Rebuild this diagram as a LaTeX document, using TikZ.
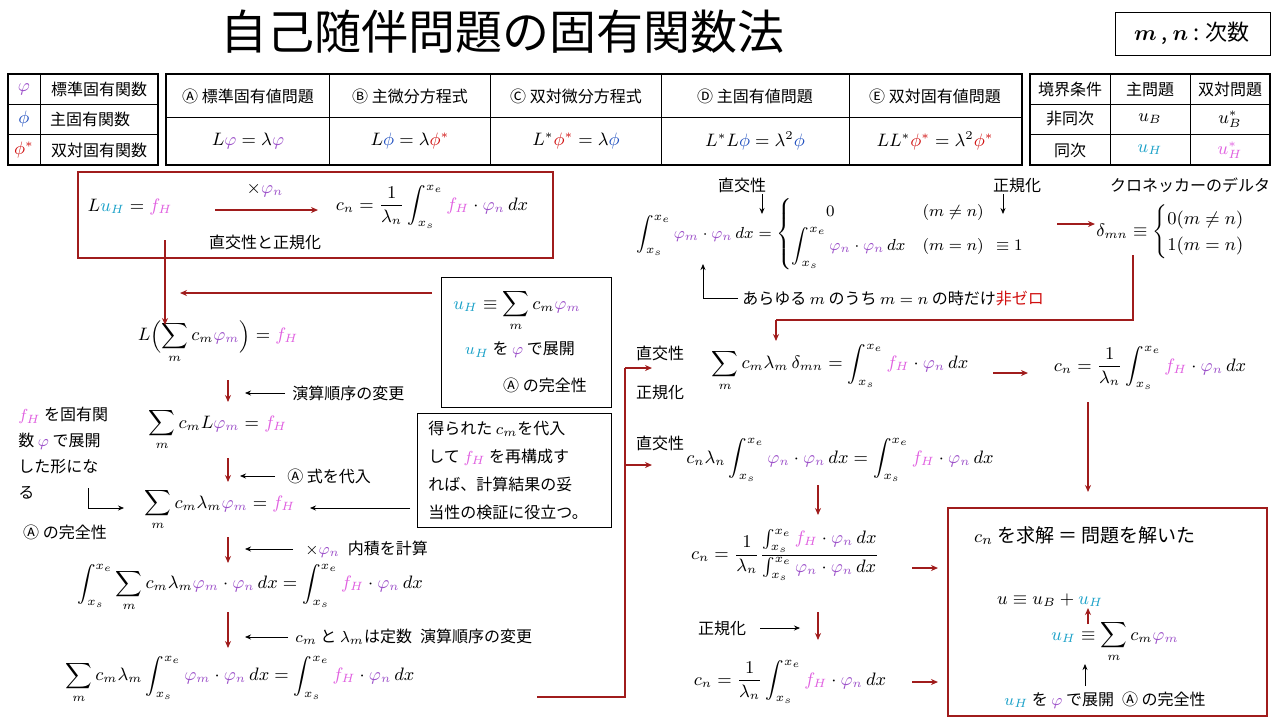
\documentclass[tikz,border=0pt]{standalone}
\usepackage{amsmath}
\usepackage{amssymb}
\usepackage{fontspec}
\setmainfont{Noto Sans CJK JP}
\usetikzlibrary{arrows.meta}
\definecolor{cpu}{HTML}{9B4FC8}
\definecolor{cbl}{HTML}{1F4FBF}
\definecolor{crd}{HTML}{D01010}
\definecolor{ccy}{HTML}{1BA1C8}
\definecolor{cpk}{HTML}{E060E0}
\definecolor{dred}{HTML}{A01C1C}
\newcommand\vp{\textcolor{cpu}{\varphi}}
\newcommand\vpm{\textcolor{cpu}{\varphi_m}}
\newcommand\vpn{\textcolor{cpu}{\varphi_n}}
\newcommand\ph{\textcolor{cbl}{\phi}}
\newcommand\phs{\textcolor{crd}{\phi^*}}
\newcommand\uH{\textcolor{ccy}{u_H}}
\newcommand\fH{\textcolor{cpk}{f_H}}
\newcommand\intse{\int_{x_s}^{x_e}}
\tikzset{
  txt/.style={inner sep=1pt, font=\fontsize{8}{10}\selectfont},
  eq/.style={inner sep=1pt, font=\fontsize{9}{11}\selectfont},
  rarr/.style={draw=dred, line width=0.7pt, -{Stealth[length=3.5pt,width=3pt]}},
  rline/.style={draw=dred, line width=0.7pt},
  barr/.style={draw=black, line width=0.4pt, -{Stealth[length=3pt,width=2.5pt]}},
  tbl/.style={draw=black, line width=0.4pt}
}
\begin{document}
\begin{tikzpicture}[x=0.5pt,y=-0.5pt]
    \useasboundingbox (0,0) rectangle (1280,720);
    % title
    \node (title) at (502,32) {\fontsize{23.5}{27}\selectfont 自己随伴問題の固有関数法};
    \draw [tbl] (1115,12) rectangle (1270,55);
    \node [txt] (deg) at (1192,33) {\fontsize{11}{13}\selectfont $\boldsymbol{m}$ , $\boldsymbol{n}$ : 次数};
    % legend table
    \draw [tbl, line width=0.8pt] (8,74) rectangle (158,165);
    \draw [tbl] (40,74) -- (40,165) (8,104) -- (158,104) (8,134) -- (158,134);
    \node [eq] (l1) at (24,89) {$\vp$};
    \node [eq] (l2) at (24,119) {$\ph$};
    \node [eq] (l3) at (24,150) {$\phs$};
    \node [txt] (t1) at (99,89) {標準固有関数};
    \node [txt] (t2) at (90,119) {主固有関数};
    \node [txt] (t3) at (99,150) {双対固有関数};
    % main table
    \draw [tbl, line width=0.8pt] (166,74) rectangle (1022,165);
    \draw [tbl] (166,117) -- (1022,117);
    \foreach \xs in {329,490,661,849} \draw [tbl] (\xs,74) -- (\xs,165);
    \node [txt] (hA) at (248,96) {Ⓐ 標準固有値問題};
    \node [txt] (hB) at (410,96) {Ⓑ 主微分方程式};
    \node [txt] (hC) at (576,96) {Ⓒ 双対微分方程式};
    \node [txt] (hD) at (755,96) {Ⓓ 主固有値問題};
    \node [txt] (hE) at (935,96) {Ⓔ 双対固有値問題};
    \node [eq] (qA) at (248,141) {$L\vp=\lambda\vp$};
    \node [eq] (qB) at (410,141) {$L\ph=\lambda\phs$};
    \node [eq] (qC) at (576,141) {$L^*\phs=\lambda\ph$};
    \node [eq] (qD) at (755,141) {$L^*L\ph=\lambda^2\ph$};
    \node [eq] (qE) at (935,141) {$LL^*\phs=\lambda^2\phs$};
    % boundary table
    \draw [tbl, line width=0.8pt] (1030,74) rectangle (1270,165);
    \draw [tbl] (1110,74) -- (1110,165) (1190,74) -- (1190,165) (1030,104) -- (1270,104) (1030,134) -- (1270,134);
    \node [txt] (b1) at (1070,89) {境界条件};
    \node [txt] (b2) at (1150,89) {主問題};
    \node [txt] (b3) at (1230,89) {双対問題};
    \node [txt] (b4) at (1070,119) {非同次};
    \node [txt] (b5) at (1070,150) {同次};
    \node [eq] (b6) at (1150,119) {$u_B$};
    \node [eq] (b7) at (1230,119) {$u_B^*$};
    \node [eq] (b8) at (1150,150) {$\uH$};
    \node [eq] (b9) at (1230,150) {$\textcolor{cpk}{u_H^*}$};
    % top left box
    \draw [draw=dred, line width=0.6pt] (78,172) rectangle (553,258);
    \node [eq] (s0) at (130,207) {$L\uH=\fH$};
    \node [eq] (mul) at (265,190) {$\times\vpn$};
    \node [eq] (c0) at (432,207) {$\displaystyle c_n=\frac{1}{\lambda_n}\intse\fH\cdot\vpn\,dx$};
    \node [txt] (oc) at (265,242) {直交性と正規化};
    \draw [rarr] (215,210) -- (318,210);
    % left chain
    \node [eq] (e1) at (218,342) {$\displaystyle L\Bigl(\sum_m c_m\vpm\Bigr)=\fH$};
    \node [eq] (e2) at (218,430) {$\displaystyle \sum_m c_mL\vpm=\fH$};
    \node [eq] (e3) at (220,510) {$\displaystyle \sum_m c_m\lambda_m\vpm=\fH$};
    \node [eq] (e4) at (250,588) {$\displaystyle \intse\sum_m c_m\lambda_m\vpm\cdot\vpn\,dx=\intse\fH\cdot\vpn\,dx$};
    \node [eq] (e5) at (240,680) {$\displaystyle \sum_m c_m\lambda_m\intse\vpm\cdot\vpn\,dx=\intse\fH\cdot\vpn\,dx$};
    \draw [rarr] (165,240) -- (165,325);
    \draw [rarr] (432,293) -- (180,293);
    \foreach \ya/\yb in {380/402,458/482,537/563,612/648} \draw [rarr] (228,\ya) -- (228,\yb);
    \draw [barr] (285,393) -- (245,393);
    \node [txt, anchor=west] (n1) at (290,393) {演算順序の変更};
    \draw [barr] (275,476) -- (240,476);
    \node [txt, anchor=west] (n2) at (285,476) {Ⓐ 式を代入};
    \draw [barr] (293,549) -- (245,549);
    \node [txt, anchor=west] (n3) at (303,549) {$\times\vpn$\enspace 内積を計算};
    \draw [barr] (288,637) -- (245,637);
    \node [txt, anchor=west] (n4) at (293,637) {$c_m$ と $\lambda_m$は定数\enspace 演算順序の変更};
    % expansion box
    \draw [tbl] (441,277) rectangle (611,407);
    \node [eq] (ex1) at (517,311) {$\displaystyle \uH\equiv\sum_m c_m\vpm$};
    \node [txt] (ex2) at (520,350) {$\uH$ を $\vp$ で展開};
    \node [txt] (ex3) at (545,385) {Ⓐ の完全性};
    % left notes
    \node [txt, anchor=west, align=left] (lf) at (16,453) {$\fH$ を固有関\\[3pt]数 $\vp$ で展開\\[3pt]した形にな\\[3pt]る};
    \node [txt] (lc) at (65,532) {Ⓐ の完全性};
    \coordinate (lk) at (88,488);
    \draw [barr] (lk) -- (88,508) -- (124,508);
    % verification box
    \draw [tbl] (417,413) rectangle (611,527);
    \node [txt, anchor=west, align=left] (vb) at (426,470) {得られた $c_m$を代入\\[4pt]して $\fH$ を再構成す\\[4pt]れば、計算結果の妥\\[4pt]当性の検証に役立つ。};
    \draw [barr] (410,508) -- (310,508);
    % connector to right side
    \coordinate (k1) at (625,697);
    \coordinate (k2) at (625,368);
    \draw [rline] (537,697) -- (k1) -- (k2);
    \draw [rarr] (k2) -- (652,368);
    \draw [rarr] (625,465) -- (652,465);
    % right top orthogonality
    \node [txt] (or) at (742,185) {直交性};
    \node [txt] (nr) at (1017,185) {正規化};
    \node [txt] (kd) at (1190,185) {クロネッカーのデルタ};
    \node [eq, anchor=west, font=\fontsize{8.5}{10}\selectfont] (orth) at (634,234) {$\displaystyle \intse\vpm\cdot\vpn\,dx=\begin{cases}\qquad 0 & (m\ne n)\\[2pt] \displaystyle\intse\vpn\cdot\vpn\,dx & (m=n)\ \ \equiv1\end{cases}$};
    \node [eq] (dl) at (1180,232) {$\delta_{mn}\equiv\begin{cases}0(m\ne n)\\1(m=n)\end{cases}$};
    \draw [barr] (762,194) -- (762,214);
    \draw [barr] (1003,194) -- (1003,214);
    \draw [rarr] (1057,224) -- (1095,224);
    \node [txt, anchor=west] (nz) at (740,298) {あらゆる $m$ のうち $m=n$ の時だけ\textcolor{crd}{非ゼロ}};
    \draw [barr] (738,298) -- (703,298) -- (703,264);
    \coordinate (k3) at (1133,255);
    \coordinate (k4) at (1133,320);
    \draw [rline] (k3) -- (k4) -- (776,320);
    \draw [rarr] (776,320) -- (776,341);
    % right middle
    \node [txt] (r1) at (660,353) {直交性};
    \node [txt] (r2) at (660,392) {正規化};
    \node [eq] (f1) at (840,368) {$\displaystyle \sum_m c_m\lambda_m\,\delta_{mn}=\intse\fH\cdot\vpn\,dx$};
    \node [eq] (f2) at (1150,368) {$\displaystyle c_n=\frac{1}{\lambda_n}\intse\fH\cdot\vpn\,dx$};
    \draw [rarr] (993,373) -- (1028,373);
    \draw [rarr] (1088,402) -- (1088,492);
    \node [txt] (r3) at (660,443) {直交性};
    \node [eq] (g1) at (840,460) {$\displaystyle c_n\lambda_n\intse\vpn\cdot\vpn\,dx=\intse\fH\cdot\vpn\,dx$};
    \draw [rarr] (818,485) -- (818,515);
    \node [eq] (g2) at (785,555) {$\displaystyle c_n=\frac{1}{\lambda_n}\frac{\int_{x_s}^{x_e}\fH\cdot\vpn\,dx}{\int_{x_s}^{x_e}\vpn\cdot\vpn\,dx}$};
    \draw [rarr] (912,568) -- (938,568);
    \node [txt] (r4) at (722,628) {正規化};
    \draw [barr] (760,628) -- (800,628);
    \draw [rarr] (818,612) -- (818,640);
    \node [eq] (g3) at (790,682) {$\displaystyle c_n=\frac{1}{\lambda_n}\intse\fH\cdot\vpn\,dx$};
    \draw [rarr] (912,682) -- (938,682);
    % result box
    \draw [draw=dred, line width=0.6pt] (948,508) rectangle (1267,716);
    \node [txt] (res) at (1085,535) {\fontsize{9.5}{11}\selectfont $c_n$ を求解 ＝ 問題を解いた};
    \node [eq] (u1) at (1050,600) {$u\equiv u_B+\uH$};
    \node [eq] (u2) at (1115,642) {$\displaystyle \uH\equiv\sum_m c_m\vpm$};
    \node [txt] (u3) at (1105,700) {$\uH$ を $\vp$ で展開\enspace Ⓐ の完全性};
    \draw [rarr] (1088,624) -- (1088,608);
    \draw [barr] (1085,686) -- (1085,664);
\end{tikzpicture}
\end{document}
